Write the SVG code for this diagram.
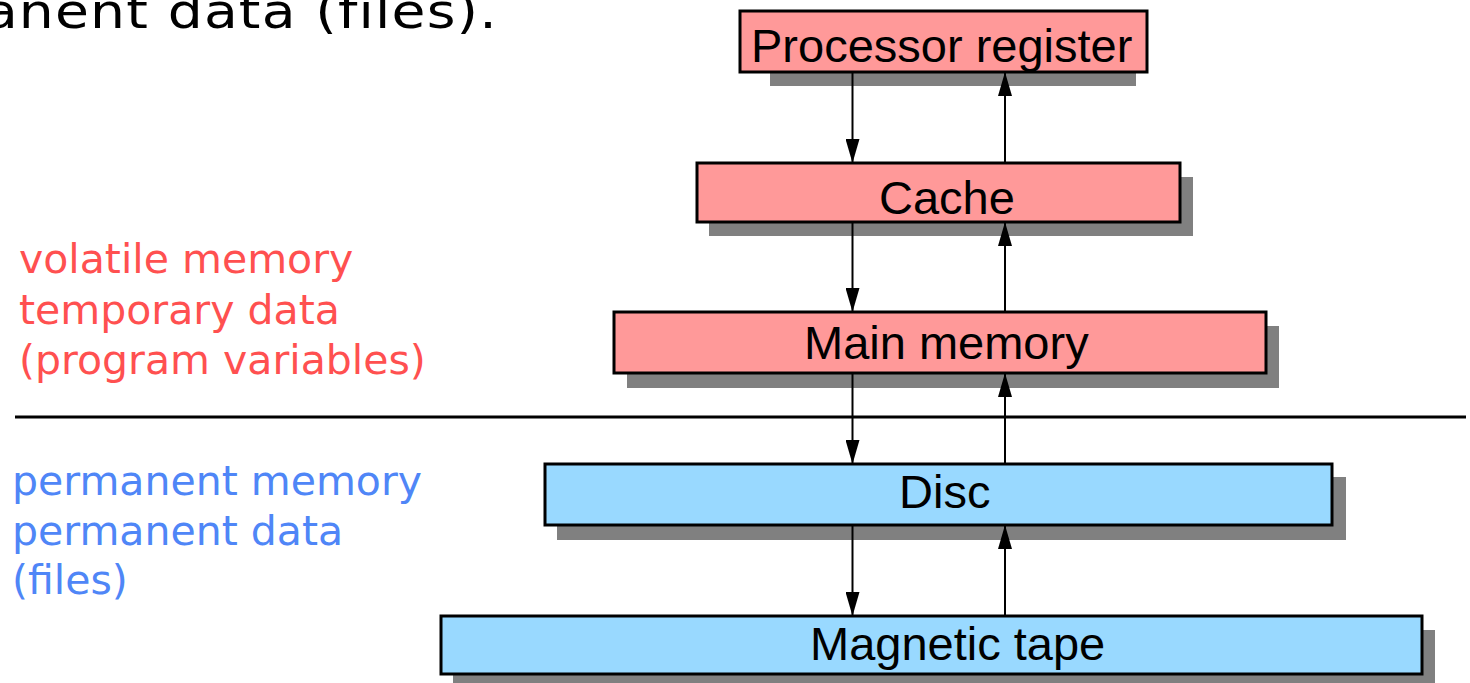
<svg xmlns="http://www.w3.org/2000/svg" width="1470" height="683" viewBox="0 0 1470 683">
<style>
.shadow{fill:#808080}
.box{stroke:#000;stroke-width:3}
.vol{fill:#ff9999}
.perm{fill:#99d9ff}
.lbl{font-family:"Liberation Sans",Arial,sans-serif;font-size:47px;fill:#000}
.side{font-family:"DejaVu Sans",Verdana,sans-serif;font-size:41px}
.red{fill:#ff5050}
.blue{fill:#4f86f7}
.conn{stroke:#000;stroke-width:2;fill:none;marker-end:url(#ah)}
</style>
<defs>
<marker id="ah" markerUnits="userSpaceOnUse" markerWidth="24" markerHeight="14" refX="24" refY="7" orient="auto">
<path d="M0,0 L24,7 L0,14 z" fill="#000"/>
</marker>
</defs>
<rect width="1470" height="683" fill="#fff"/>
<text transform="scale(1.15,1)" x="433" y="28" text-anchor="end" font-family="DejaVu Sans, Verdana, sans-serif" font-size="48" letter-spacing="1" fill="#000">permanent data (files).</text>
<g id="side-labels">
<text class="side red" x="19" y="273">volatile memory</text>
<text class="side red" x="19" y="323.5">temporary data</text>
<text class="side red" x="19" y="374">(program variables)</text>
<text class="side blue" x="12" y="495">permanent memory</text>
<text class="side blue" x="12" y="545">permanent data</text>
<text class="side blue" x="12" y="594">(files)</text>
</g>
<line id="divider" x1="15" y1="417" x2="1466" y2="417" stroke="#000" stroke-width="3"/>
<g id="processor-register">
<rect class="shadow" x="770" y="25" width="366" height="61"/>
<rect class="box vol" x="740" y="11" width="407" height="61"/>
<text class="lbl" x="751" y="62">Processor register</text>
</g>
<g id="cache">
<rect class="shadow" x="709" y="177" width="484" height="59"/>
<rect class="box vol" x="697" y="163" width="483" height="59"/>
<text class="lbl" x="879" y="214">Cache</text>
</g>
<g id="main-memory">
<rect class="shadow" x="627" y="326" width="652" height="62"/>
<rect class="box vol" x="614" y="312" width="652" height="61"/>
<text class="lbl" x="804" y="359">Main memory</text>
</g>
<g id="disc">
<rect class="shadow" x="557" y="477" width="789" height="63"/>
<rect class="box perm" x="545" y="464" width="787" height="61"/>
<text class="lbl" x="899" y="508">Disc</text>
</g>
<g id="magnetic-tape">
<rect class="shadow" x="453" y="630" width="982" height="60"/>
<rect class="box perm" x="441" y="616" width="981" height="58"/>
<text class="lbl" x="810" y="660">Magnetic tape</text>
</g>
<g id="connectors">
<line class="conn" x1="852.5" y1="73" x2="852.5" y2="163"/>
<line class="conn" x1="1005" y1="162" x2="1005" y2="72"/>
<line class="conn" x1="852.5" y1="223" x2="852.5" y2="312"/>
<line class="conn" x1="1005" y1="311" x2="1005" y2="222"/>
<line class="conn" x1="852.5" y1="374" x2="852.5" y2="464"/>
<line class="conn" x1="1005" y1="463" x2="1005" y2="373"/>
<line class="conn" x1="852.5" y1="526" x2="852.5" y2="616"/>
<line class="conn" x1="1005" y1="615" x2="1005" y2="525"/>
</g>
</svg>
